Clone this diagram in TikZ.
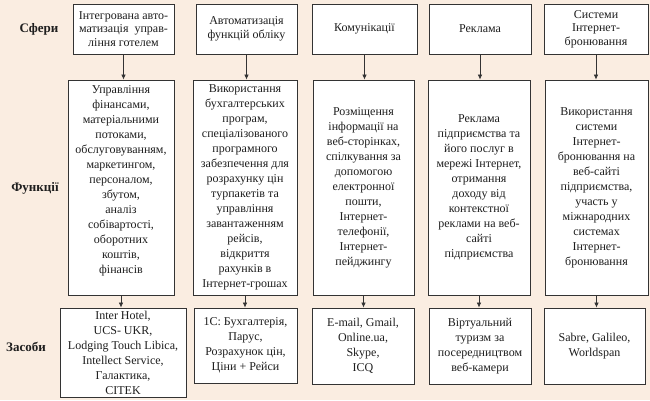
\documentclass[tikz,border=0pt]{standalone}
\usepackage{fontspec}
\setmainfont{Liberation Serif}
\usetikzlibrary{arrows.meta}
\definecolor{bgpeach}{HTML}{FAEDE1}
\definecolor{lineg}{HTML}{333333}
\definecolor{txtg}{HTML}{1E1E1E}
\def\ytop{29}
\def\ymid{187.5}
\def\hmid{215}

\tikzset{
  box/.style={draw=lineg, fill=white, line width=0.8pt, align=center, text=txtg,
    inner sep=1pt, font=\fontsize{12}{15}\selectfont},
  topbox/.style={box, minimum height=50pt, font=\fontsize{12}{13.5}\selectfont},
  midbox/.style={box, minimum height=\hmid pt},
  rowlabel/.style={text=txtg, font=\fontsize{13}{15}\selectfont\bfseries},
  arr/.style={draw=lineg, line width=0.7pt, -{Latex[length=5pt,width=4.5pt]}}
}

\begin{document}
\begin{tikzpicture}[x=1pt,y=-1pt]

\fill[bgpeach] (0,0) rectangle (650,400);

\node[rowlabel] (lsf) at (39,\ytop) {Сфери};
\node[rowlabel] (lfn) at (35,188) {Функції};
\node[rowlabel] (lzs) at (26,347) {Засоби};

\node[topbox, minimum width=101pt] (s1) at (123.5,\ytop) {Інтегрована авто-\\матизація\ \ управ-\\ління готелем};
\node[topbox, minimum width=101pt] (s2) at (246.5,\ytop) {Автоматизація\\функцій обліку};
\node[topbox, minimum width=105pt] (s3) at (364.5,\ytop) {Комунікації};
\node[topbox, minimum width=102pt] (s4) at (480,\ytop) {Реклама};
\node[topbox, minimum width=104pt] (s5) at (596,\ytop) {Системи\\Інтернет-\\бронювання};

\node[midbox, minimum width=106pt] (f1) at (121,\ymid) {Управління\\фінансами,\\матеріальними\\потоками,\\обслуговуванням,\\маркетингом,\\персоналом,\\збутом,\\аналіз\\собівартості,\\оборотних\\коштів,\\фінансів\\~};
\node[midbox, minimum width=104pt] (f2) at (245,\ymid) {Використання\\бухгалтерських\\програм,\\спеціалізованого\\програмного\\забезпечення для\\розрахунку цін\\турпакетів та\\управління\\завантаженням\\рейсів,\\відкриття\\рахунків в\\Інтернет-грошах};
\node[midbox, minimum width=101pt] (f3) at (363.5,\ymid) {Розміщення\\інформації на\\веб-сторінках,\\спілкування за\\допомогою\\електронної\\пошти,\\Інтернет-\\телефонії,\\Інтернет-\\пейджингу};
\node[midbox, minimum width=102pt] (f4) at (479,\ymid) {Реклама\\підприємства та\\його послуг в\\мережі Інтернет,\\отримання\\доходу від\\контекстної\\реклами на веб-\\сайті\\підприємства};
\node[midbox, minimum width=103pt] (f5) at (596.5,\ymid) {Використання\\системи\\Інтернет-\\бронювання на\\веб-сайті\\підприємства,\\участь у\\міжнародних\\системах\\Інтернет-\\бронювання};

\node[box, minimum width=126pt, minimum height=89pt] (z1) at (123,352.5) {Inter Hotel,\\UCS- UKR,\\Lodging Touch Libica,\\Intellect Service,\\Галактика,\\CITEK};
\node[box, minimum width=103pt, minimum height=75pt] (z2) at (245.5,345.5) {1С: Бухгалтерія,\\Парус,\\Розрахунок цін,\\Ціни + Рейси};
\node[box, minimum width=102pt, minimum height=76pt] (z3) at (363,346) {E-mail, Gmail,\\Online.ua,\\Skype,\\ICQ};
\node[box, minimum width=102pt, minimum height=76pt] (z4) at (480,346) {Віртуальний\\туризм за\\посередництвом\\веб-камери};
\node[box, minimum width=101pt, minimum height=76pt] (z5) at (594.5,346) {Sabre, Galileo,\\Worldspan};

\foreach \i in {1,...,5}{
    \draw[arr] (s\i.south) -- (s\i.south |- f\i.north);
    \draw[arr] (f\i.south) -- (f\i.south |- z\i.north);
}

\end{tikzpicture}
\end{document}
